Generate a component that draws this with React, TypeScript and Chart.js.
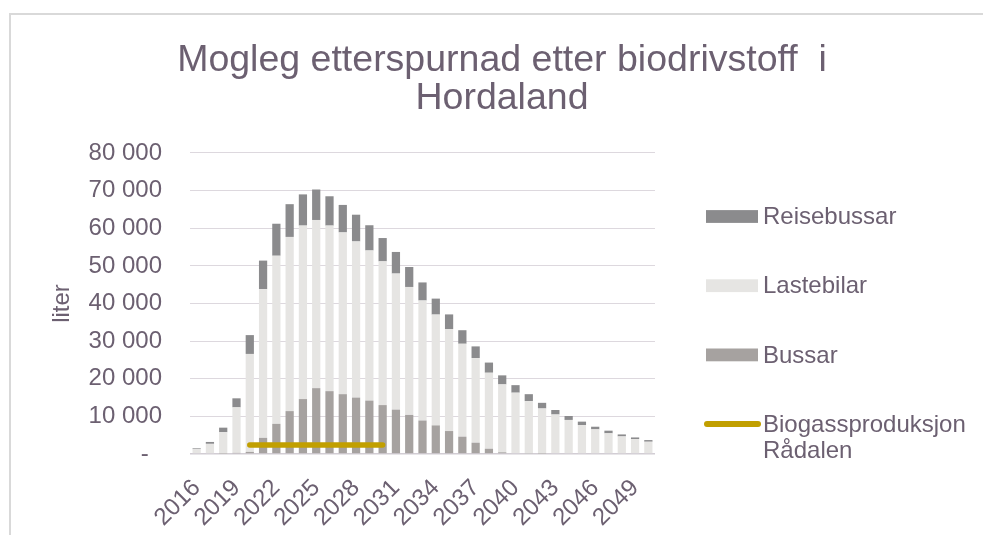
import React, { useEffect, useRef } from "react";
import { Chart, registerables } from "chart.js";

Chart.register(...registerables);

const years = [
  "2016", "2017", "2018", "2019", "2020", "2021", "2022", "2023", "2024", "2025",
  "2026", "2027", "2028", "2029", "2030", "2031", "2032", "2033", "2034", "2035",
  "2036", "2037", "2038", "2039", "2040", "2041", "2042", "2043", "2044", "2045",
  "2046", "2047", "2048", "2049", "2050",
];

const bussar = [
  0, 0, 100, 300, 550, 4300, 8000, 11400, 14600, 17500,
  16700, 15900, 15000, 14200, 13000, 11800, 10400, 8900, 7600, 6100,
  4600, 3000, 1400, 450, 220, 150, 100, 0, 0, 0,
  0, 0, 0, 0, 0,
];

const lastebilar = [
  1300, 2700, 5700, 12100, 26050, 39500, 44700, 46300, 46100, 44700,
  44000, 43000, 41500, 39900, 38200, 36150, 34000, 31900, 29450, 27100,
  24700, 22500, 20200, 18050, 16080, 13900, 12000, 10500, 9050, 7700,
  6550, 5500, 4670, 3960, 3260,
];

const reisebussar = [
  200, 500, 1200, 2400, 5000, 7600, 8500, 8700, 8300, 8100,
  7800, 7300, 7100, 6700, 6200, 5750, 5300, 4800, 4250, 3900,
  3600, 3100, 2700, 2400, 2000, 1850, 1500, 1200, 1050, 900,
  700, 700, 530, 440, 440,
];

const biogass = [
  null, null, null, null, 2400, 2400, 2400, 2400, 2400, 2400,
  2400, 2400, 2400, 2400, 2400, null, null, null, null, null,
  null, null, null, null, null, null, null, null, null, null,
  null, null, null, null, null,
];

const titleLines = ["Mogleg etterspurnad etter biodrivstoff  i", "Hordaland"];
const yAxisTitle = "liter";
const labelBussar = "Bussar";
const labelLastebilar = "Lastebilar";
const labelReisebussar = "Reisebussar";
const labelBiogass = "Biogassproduksjon\nRådalen";

const TEXT = "#6c6071";
const FONT = '"Liberation Sans", Arial, sans-serif';

const fmt = (v: number) => {
  if (v === 0) return "-  ";
  return String(v).replace(/\B(?=(\d{3})+(?!\d))/g, " ");
};

const overlayPlugin = {
  id: "overlay",
  afterDraw(chart: any) {
    const ctx = chart.ctx as CanvasRenderingContext2D;
    ctx.save();
    ctx.fillStyle = TEXT;
    ctx.font = `37.5px ${FONT}`;
    ctx.textAlign = "center";
    ctx.textBaseline = "middle";
    titleLines.forEach((t, i) => ctx.fillText(t, 502, 61 + i * 38));

    // legend: stacked bars top-down, then the line
    const order = [2, 1, 0, 3];
    ctx.font = `24px ${FONT}`;
    ctx.textAlign = "left";
    order.forEach((di, k) => {
      const ds = chart.data.datasets[di];
      const cy = 216.5 + k * 69.2;
      if (ds.type === "line") {
        ctx.strokeStyle = ds.borderColor;
        ctx.lineWidth = 6;
        ctx.lineCap = "round";
        ctx.beginPath();
        ctx.moveTo(707, cy);
        ctx.lineTo(758, cy);
        ctx.stroke();
      } else {
        ctx.fillStyle = ds.backgroundColor;
        ctx.fillRect(706, cy - 6.4, 52, 12.8);
      }
      ctx.fillStyle = TEXT;
      String(ds.label)
        .split("\n")
        .forEach((line, j) => ctx.fillText(line, 763, cy + 1 + j * 26));
    });
    ctx.restore();
  },
};

export default function App() {
  const ref = useRef<HTMLCanvasElement | null>(null);

  useEffect(() => {
    if (!ref.current) return;
    const chart = new Chart(ref.current, {
      type: "bar",
      data: {
        labels: years,
        datasets: [
          {
            type: "bar",
            label: labelBussar,
            data: bussar,
            backgroundColor: "#a6a2a0",
            categoryPercentage: 1,
            barPercentage: 0.62,
          },
          {
            type: "bar",
            label: labelLastebilar,
            data: lastebilar,
            backgroundColor: "#e6e5e3",
            categoryPercentage: 1,
            barPercentage: 0.62,
          },
          {
            type: "bar",
            label: labelReisebussar,
            data: reisebussar,
            backgroundColor: "#8b8b8d",
            categoryPercentage: 1,
            barPercentage: 0.62,
          },
          {
            type: "line",
            label: labelBiogass,
            data: biogass as any,
            borderColor: "#c19f00",
            backgroundColor: "#c19f00",
            borderWidth: 5.5,
            borderCapStyle: "round",
            pointRadius: 0,
            pointHoverRadius: 0,
            spanGaps: false,
            order: -1,
          } as any,
        ],
      },
      options: {
        responsive: false,
        animation: false,
        devicePixelRatio: 1,
        layout: { padding: { top: 153, right: 328, bottom: 0, left: 0 } },
        plugins: {
          legend: { display: false },
          title: { display: false },
          tooltip: { enabled: false },
        },
        scales: {
          x: {
            stacked: true,
            grid: { display: false, drawTicks: false },
            border: { display: false },
            ticks: {
              autoSkip: false,
              maxRotation: 45,
              minRotation: 45,
              padding: 20,
              color: TEXT,
              font: { family: FONT, size: 24 },
              callback: (_v: any, i: number) => (i % 3 === 0 ? years[i] : ""),
            },
            afterFit: (s: any) => {
              s.height = 81;
            },
          },
          y: {
            stacked: true,
            min: 0,
            max: 80000,
            border: { display: false },
            grid: {
              drawTicks: false,
              color: (c: any) => (c.tick && c.tick.value === 0 ? "#d2cdd4" : "#ddd8de"),
              lineWidth: (c: any) => (c.tick && c.tick.value === 0 ? 1.6 : 1.1),
            },
            ticks: {
              stepSize: 10000,
              padding: 28,
              color: TEXT,
              font: { family: FONT, size: 24 },
              callback: (v: any) => fmt(Number(v)),
            },
            title: {
              display: true,
              text: yAxisTitle,
              color: TEXT,
              font: { family: FONT, size: 24 },
              padding: { top: 48, bottom: 0 },
            },
            afterFit: (s: any) => {
              s.width = 190;
            },
          },
        },
      },
      plugins: [overlayPlugin],
    });
    return () => chart.destroy();
  }, []);

  return (
    <div
      style={{
        position: "fixed",
        left: 0,
        top: 0,
        width: 983,
        height: 535,
        overflow: "hidden",
        background: "#ffffff",
      }}
    >
      <div
        style={{
          position: "absolute",
          left: 9,
          top: 13,
          width: 1100,
          height: 700,
          borderTop: "2px solid #d9d9d9",
          borderLeft: "2px solid #d9d9d9",
          boxSizing: "border-box",
        }}
      />
      <canvas
        ref={ref}
        width={983}
        height={535}
        style={{ position: "absolute", left: 0, top: 0, display: "block" }}
      />
    </div>
  );
}
